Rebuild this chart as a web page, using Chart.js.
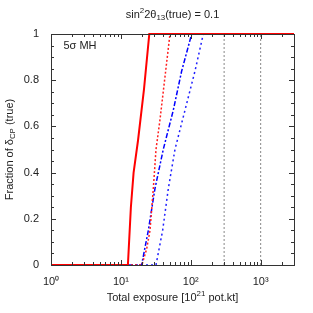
<!DOCTYPE html>
<html>
<head>
<meta charset="utf-8">
<script src="https://cdn.jsdelivr.net/npm/chart.js@4/dist/chart.umd.min.js"></script>
<style>
  html, body { margin: 0; padding: 0; background: #fff; }
  #wrap { width: 313px; height: 313px; }
</style>
</head>
<body>
<div id="wrap"><canvas id="chart" width="313" height="313"></canvas></div>
<script>
// exposure values (10^21 pot.kt) and fraction of delta_CP
const redSolidX = [1, 12.6, 13.9, 15.2, 17.6, 21.4, 25.5, 3000];
const redSolidY = [0, 0, 0.25, 0.40, 0.54, 0.76, 1, 1];
const redDotX = [1, 20.0, 23.4, 26.1, 29.1, 31.8, 36.3, 50.4, 3000];
const redDotY = [0, 0, 0.07, 0.15, 0.33, 0.50, 0.63, 1, 1];
const blueDashDotX = [1, 19.8, 24.7, 30.7, 40.4, 56.2, 74.1, 103, 3000];
const blueDashDotY = [0, 0, 0.15, 0.33, 0.50, 0.67, 0.84, 1, 1];
const blueDotX = [1, 31.8, 39.6, 47.7, 59.4, 82.6, 115, 151, 3000];
const blueDotY = [0, 0, 0.15, 0.33, 0.50, 0.67, 0.84, 1, 1];
const refLines = [300, 1000];

const xTicks = [1, 10, 100, 1000];
const xTickLabels = ['10⁰', '10¹', '10²', '10³'];
const yTicks = [0, 0.2, 0.4, 0.6, 0.8, 1];
const yTickLabels = ['0', '0.2', '0.4', '0.6', '0.8', '1'];

const FONT = '"Liberation Sans", Arial, sans-serif';

function pts(xs, ys) {
	return xs.map((x, i) => ({ x: x, y: ys[i] }));
}

function series(xs, ys, color, width, dash) {
	return {
		data: pts(xs, ys),
		borderColor: color,
		borderWidth: width,
		borderDash: dash,
		pointRadius: 0,
		fill: false,
		tension: 0,
		clip: 3
	};
}

const datasets = [];
refLines.forEach(v => {
	datasets.push(series([v, v], [0, 1], '#888', 1, [2, 2]));
});
datasets.push(series(redSolidX, redSolidY, '#ff0000', 2, []));
datasets.push(series(redDotX, redDotY, '#ff2020', 1.5, [2, 2]));
datasets.push(series(blueDashDotX, blueDashDotY, '#0000ff', 1.5, [5, 2, 2, 2]));
datasets.push(series(blueDotX, blueDotY, '#2020ff', 1.5, [2, 3]));

// draws a string made of parts, some as sub/superscripts
function richWidth(ctx, parts, size) {
	let w = 0;
	parts.forEach(p => {
		ctx.font = (p.s ? size * 0.72 : size) + 'px ' + FONT;
		w += ctx.measureText(p.t).width;
	});
	return w;
}
function richText(ctx, parts, cx, cy, size) {
	let x = cx - richWidth(ctx, parts, size) / 2;
	ctx.textBaseline = 'middle';
	ctx.textAlign = 'left';
	parts.forEach(p => {
		const sz = p.s ? size * 0.72 : size;
		ctx.font = sz + 'px ' + FONT;
		let dy = 0;
		if (p.s === 'sup') dy = -size * 0.38;
		if (p.s === 'sub') dy = size * 0.3;
		ctx.fillText(p.t, x, cy + dy);
		x += ctx.measureText(p.t).width;
	});
}

const framePlugin = {
	id: 'frame',
	afterDatasetsDraw(chart) {
		const ctx = chart.ctx;
		const a = chart.chartArea;
		const xs = chart.scales.x;
		const ys = chart.scales.y;
		ctx.save();
		ctx.strokeStyle = '#333';
		ctx.lineWidth = 1;
		ctx.beginPath();
		// x ticks (major + minor), bottom and top, pointing inward
		for (let d = 1; d <= 1000; d *= 10) {
			for (let m = 1; m <= 9; m++) {
				const v = d * m;
				if (v > 3000) break;
				const px = Math.round(xs.getPixelForValue(v)) + 0.5;
				const len = m === 1 ? 5 : 3;
				ctx.moveTo(px, a.bottom); ctx.lineTo(px, a.bottom - len);
				ctx.moveTo(px, a.top); ctx.lineTo(px, a.top + len);
			}
		}
		// y ticks every 0.05, left and right
		for (let i = 0; i <= 20; i++) {
			const py = Math.round(ys.getPixelForValue(i * 0.05)) + 0.5;
			const len = i % 4 === 0 ? 5 : 3;
			ctx.moveTo(a.left, py); ctx.lineTo(a.left + len, py);
			ctx.moveTo(a.right, py); ctx.lineTo(a.right - len, py);
		}
		ctx.stroke();
		ctx.strokeRect(Math.round(a.left) + 0.5, Math.round(a.top) + 0.5,
			Math.round(a.right - a.left), Math.round(a.bottom - a.top));

		ctx.fillStyle = '#222';
		const cx = (a.left + a.right) / 2;
		richText(ctx, [{ t: 'sin' }, { t: '2', s: 'sup' }, { t: '2θ' }, { t: '13', s: 'sub' }, { t: '(true) = 0.1' }], cx, 15, 11);
		richText(ctx, [{ t: 'Total exposure [10' }, { t: '21', s: 'sup' }, { t: ' pot.kt]' }], cx, 298, 11);
		ctx.save();
		ctx.translate(10, (a.top + a.bottom) / 2);
		ctx.rotate(-Math.PI / 2);
		richText(ctx, [{ t: 'Fraction of δ' }, { t: 'CP', s: 'sub' }, { t: ' (true)' }], 0, 0, 11);
		ctx.restore();
		richText(ctx, [{ t: '5σ MH' }], a.left + 29, 46, 11);
		ctx.restore();
	}
};

new Chart(document.getElementById('chart').getContext('2d'), {
	type: 'line',
	data: { datasets: datasets },
	options: {
		responsive: false,
		animation: false,
		layout: { padding: { left: 0, top: 34, right: 19, bottom: 0 } },
		plugins: { legend: { display: false }, tooltip: { enabled: false } },
		scales: {
			x: {
				type: 'logarithmic',
				min: 1,
				max: 3000,
				grid: { display: false },
				border: { display: false },
				afterBuildTicks: s => { s.ticks = xTicks.map(v => ({ value: v })); },
				afterFit: s => { s.height = 48; },
				ticks: {
					autoSkip: false,
					maxRotation: 0,
					padding: 2,
					color: '#222',
					font: { family: FONT, size: 11 },
					callback: (v) => xTickLabels[xTicks.indexOf(v)]
				}
			},
			y: {
				min: 0,
				max: 1,
				grid: { display: false },
				border: { display: false },
				afterBuildTicks: s => { s.ticks = yTicks.map(v => ({ value: v })); },
				afterFit: s => { s.width = 51; },
				ticks: {
					padding: 4,
					color: '#222',
					font: { family: FONT, size: 11 },
					callback: (v) => yTickLabels[yTicks.indexOf(v)]
				}
			}
		}
	},
	plugins: [framePlugin]
});
</script>
</body>
</html>
